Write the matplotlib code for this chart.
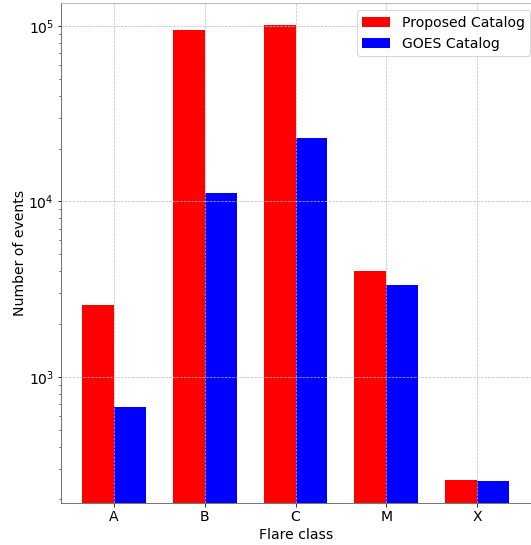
import matplotlib
matplotlib.use("Agg")
import matplotlib.pyplot as plt
import numpy as np

classes = ["A", "B", "C", "M", "X"]
proposed = [2570, 95000, 101500, 4020, 259]
goes = [674, 11100, 22900, 3340, 256]

plt.rcParams["font.size"] = 14

fig = plt.figure(figsize=(531 / 72, 545 / 72), dpi=72)
ax = fig.add_axes([61 / 531, (545 - 503) / 545, 470 / 531, 500 / 545])

x = np.arange(len(classes))
w = 0.35
ax.bar(x - w / 2, proposed, w, color="red", label="Proposed Catalog")
ax.bar(x + w / 2, goes, w, color="blue", label="GOES Catalog")

ax.set_yscale("log")
ax.set_ylim(191, 135000)
ax.set_xlim(-0.584, 4.595)
ax.set_xticks(x)
ax.set_xticklabels(classes)
ax.set_xlabel("Flare class")
ax.set_ylabel("Number of events", labelpad=1)
ax.grid(True, which="major", linestyle="--", color="#bbbbbb", linewidth=0.7)

for s in ["left", "bottom"]:
    ax.spines[s].set_color("#555555")
for s in ["top", "right"]:
    ax.spines[s].set_color("#aaaaaa")

ax.legend(loc="upper right", bbox_to_anchor=(530 / 531, 1 - 10 / 545),
          bbox_transform=fig.transFigure, borderaxespad=0)

fig.savefig("out.png", dpi=72)
